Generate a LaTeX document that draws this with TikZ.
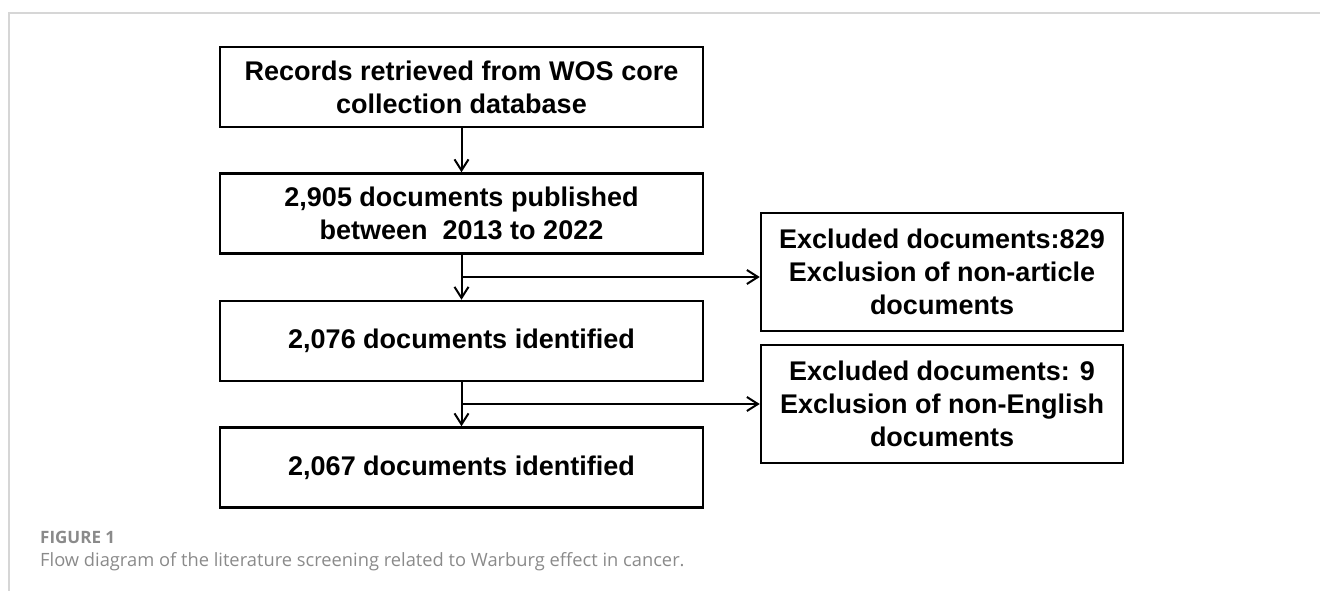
\documentclass[tikz,border=0pt]{standalone}
\usepackage{fontspec}
\setmainfont{Liberation Sans}
\newfontfamily\capfont{Open Sans}
\usetikzlibrary{arrows.meta}
\definecolor{framegray}{HTML}{D6D6D6}
\definecolor{capgray}{HTML}{8A8A8A}
\begin{document}
\begin{tikzpicture}[x=1pt,y=-1pt,
    mainbox/.style={draw,line width=2.5pt,minimum width=483pt,minimum height=80pt,
      align=center,font=\bfseries\fontsize{27}{33}\selectfont,inner sep=0pt},
    sidebox/.style={mainbox,minimum width=362pt,minimum height=118pt},
    flow/.style={line width=2pt,-{Straight Barb[length=11pt,width=14pt,line width=2pt]}}]
      \useasboundingbox (0,0) rectangle (1320,591);
      \draw[framegray,line width=1.5pt] (9,591) -- (9,13) -- (1320,13);

      \node[mainbox] (rec) at (461.5,87) {Records retrieved from WOS core\\collection database};
      \node[mainbox] (pub) at (461.5,213.5) {2,905 documents published\\between\ \ 2013 to 2022};
      \node[mainbox] (idA) at (461.5,341) {2,076 documents identified};
      \node[mainbox] (idB) at (461.5,467.5) {2,067 documents identified};
      \node[sidebox] (exA) at (942,272) {Excluded documents:829\\Exclusion of non-article\\documents};
      \node[sidebox] (exB) at (942,404) {Excluded documents: 9\\Exclusion of non-English\\documents};

      \draw[flow] (rec) -- (pub);
      \draw[flow] (pub) -- (idA);
      \draw[flow] (idA) -- (idB);
      \coordinate (brA) at (461.5,277);
      \coordinate (brB) at (461.5,404);
      \draw[flow] (brA) -- (brA -| exA.west);
      \draw[flow] (brB) -- (brB -| exB.west);

      \node[anchor=base west,inner sep=0pt,text=capgray,font=\capfont\bfseries\fontsize{17}{20}\selectfont] (fig) at (40,543) {FIGURE 1};
      \node[anchor=base west,inner sep=0pt,text=capgray,font=\capfont\fontsize{18.3}{22}\selectfont] (cap) at (40,566) {Flow diagram of the literature screening related to Warburg effect in cancer.};
    \end{tikzpicture}
\end{document}
